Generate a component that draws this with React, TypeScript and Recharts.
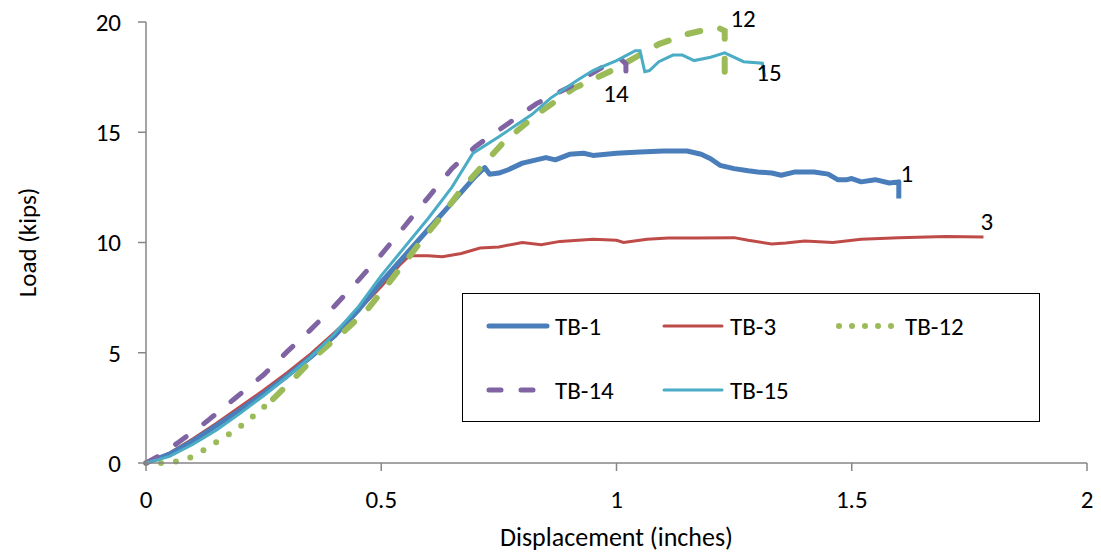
import { LineChart, Line, XAxis, YAxis, ReferenceDot, Label } from 'recharts';

// displacement (in), load (kips) pairs
const tb1: [number, number][] = [
  [0, 0], [0.05, 0.4], [0.1, 1.0], [0.15, 1.7], [0.2, 2.4], [0.25, 3.15], [0.3, 3.95], [0.35, 4.8],
  [0.4, 5.75], [0.45, 6.9], [0.5, 8.2], [0.55, 9.4], [0.6, 10.6], [0.65, 11.8], [0.7, 13.0], [0.72, 13.4],
  [0.73, 13.1], [0.75, 13.15], [0.77, 13.3], [0.8, 13.6], [0.85, 13.85], [0.87, 13.75], [0.9, 14.0],
  [0.93, 14.05], [0.95, 13.95], [1.0, 14.05], [1.05, 14.1], [1.1, 14.15], [1.15, 14.15], [1.18, 14.0],
  [1.2, 13.8], [1.22, 13.5], [1.25, 13.35], [1.28, 13.25], [1.3, 13.2], [1.33, 13.15], [1.35, 13.05],
  [1.38, 13.2], [1.42, 13.2], [1.45, 13.1], [1.47, 12.85], [1.49, 12.85], [1.5, 12.9], [1.52, 12.75],
  [1.55, 12.85], [1.58, 12.7], [1.6, 12.75], [1.6, 12.0],
];

const tb3: [number, number][] = [
  [0, 0], [0.05, 0.45], [0.1, 1.1], [0.15, 1.8], [0.2, 2.55], [0.25, 3.3], [0.3, 4.1], [0.35, 4.95],
  [0.4, 5.9], [0.45, 6.9], [0.5, 8.0], [0.54, 9.0], [0.56, 9.4], [0.6, 9.4], [0.63, 9.35], [0.67, 9.5],
  [0.71, 9.75], [0.75, 9.8], [0.8, 10.0], [0.84, 9.9], [0.88, 10.05], [0.95, 10.15], [1.0, 10.1],
  [1.015, 10.0], [1.065, 10.15], [1.11, 10.2], [1.17, 10.2], [1.25, 10.22], [1.28, 10.1], [1.33, 9.93],
  [1.36, 9.98], [1.4, 10.07], [1.46, 10.0], [1.52, 10.15], [1.6, 10.22], [1.7, 10.27], [1.78, 10.25],
];

// TB-12 lower part (dotted) and upper part (long dashes)
const tb12Low: [number, number][] = [
  [0, 0], [0.03, 0], [0.06, 0.05], [0.09, 0.2], [0.12, 0.55], [0.15, 0.95], [0.18, 1.35], [0.21, 1.8],
  [0.24, 2.35], [0.27, 2.9],
];
const tb12High: [number, number][] = [
  [0.27, 2.9], [0.32, 3.95], [0.36, 4.85], [0.42, 5.95], [0.47, 6.95], [0.51, 8.0], [0.55, 9.1],
  [0.59, 10.2], [0.63, 11.25], [0.67, 12.4], [0.72, 13.6], [0.76, 14.55], [0.83, 15.8], [0.91, 17.0],
  [1.0, 17.9], [1.09, 19.0], [1.15, 19.45], [1.19, 19.65], [1.22, 19.7], [1.23, 19.6], [1.23, 17.7],
];

const tb14: [number, number][] = [
  [0, 0], [0.03, 0.35], [0.07, 0.95], [0.13, 1.9], [0.19, 2.95], [0.25, 4.0], [0.3, 5.05], [0.35, 6.05],
  [0.4, 7.1], [0.45, 8.25], [0.5, 9.45], [0.55, 10.75], [0.6, 12.05], [0.65, 13.35], [0.7, 14.35],
  [0.77, 15.4], [0.83, 16.3], [0.9, 17.05], [0.97, 17.95], [1.01, 18.3], [1.02, 18.1], [1.02, 17.3],
];

const tb15: [number, number][] = [
  [0, 0], [0.05, 0.3], [0.1, 0.85], [0.15, 1.5], [0.2, 2.25], [0.25, 3.05], [0.3, 3.9], [0.35, 4.8],
  [0.4, 5.85], [0.45, 7.05], [0.5, 8.5], [0.55, 9.8], [0.6, 11.1], [0.65, 12.5], [0.695, 14.05],
  [0.75, 14.8], [0.82, 15.8], [0.86, 16.55], [0.92, 17.4], [0.95, 17.8], [1.0, 18.25], [1.04, 18.7],
  [1.05, 18.7], [1.06, 17.75], [1.07, 17.8], [1.09, 18.2], [1.12, 18.5], [1.14, 18.5], [1.165, 18.25],
  [1.2, 18.4], [1.23, 18.6], [1.27, 18.2], [1.31, 18.13], [1.315, 17.5],
];

const xTicks = [0, 0.5, 1, 1.5, 2];
const yTicks = [0, 5, 10, 15, 20];

// end-of-curve specimen numbers
const endLabels: [string, number, number][] = [
  ['1', 1.617, 13.15],
  ['3', 1.787, 10.97],
  ['12', 1.269, 20.18],
  ['14', 0.999, 16.78],
  ['15', 1.324, 17.73],
];

const FONT = "Carlito, Calibri, 'Open Sans', sans-serif";
const FS = 25;
const AXIS = '#868686';

const toPts = (arr: [number, number][]) => arr.map(([x, y]) => ({ x, y }));

const legendItems = [
  { name: 'TB-1', color: '#4a7ebb', width: 5, dash: undefined as string | undefined },
  { name: 'TB-3', color: '#be4b48', width: 3, dash: undefined },
  { name: 'TB-12', color: '#9bbb59', width: 6, dash: '0 13' },
  { name: 'TB-14', color: '#7f63a2', width: 5, dash: '12 20' },
  { name: 'TB-15', color: '#4bacc6', width: 3, dash: undefined },
];

const LegendBox = () => (
  <div
    style={{
      position: 'absolute', left: 462, top: 293, width: 576, height: 127,
      border: '1.5px solid #000', background: '#fff', fontFamily: FONT, fontSize: FS, lineHeight: 1,
    }}
  >
    {legendItems.map((it, i) => {
      const col = i % 3;
      const row = Math.floor(i / 3);
      return (
        <div
          key={it.name}
          style={{ position: 'absolute', left: 22 + col * 175, top: 20 + row * 64, height: 24, display: 'flex', alignItems: 'center' }}
        >
          <svg width={66} height={16}>
            <line x1={4} y1={8} x2={62} y2={8} stroke={it.color} strokeWidth={it.width}
              strokeDasharray={it.dash} strokeLinecap="round" />
          </svg>
          <span style={{ marginLeft: 4 }}>{it.name}</span>
        </div>
      );
    })}
  </div>
);

export default function App() {
  return (
    <div style={{ position: 'absolute', left: 0, top: 0, width: 1101, height: 556, background: '#fff' }}>
      <LineChart width={1101} height={556} margin={{ top: 22, right: 14, left: 0, bottom: 0 }}
        style={{ fontFamily: FONT }}>
        <XAxis type="number" dataKey="x" domain={[0, 2]} ticks={xTicks} height={93}
          stroke={AXIS} strokeWidth={1.5} tickSize={8} tickMargin={19}
          tick={{ fill: '#000', fontSize: FS }} tickFormatter={(v: number) => String(v)}>
          <Label value="Displacement (inches)" position="insideBottom" offset={10} fill="#000" fontSize={26} />
        </XAxis>
        <YAxis type="number" domain={[0, 20]} ticks={yTicks} width={146}
          stroke={AXIS} strokeWidth={1.5} tickSize={8} tickMargin={17}
          tick={{ fill: '#000', fontSize: FS }}>
          <Label value="Load (kips)" angle={-90} position="insideLeft" offset={27} fill="#000" fontSize={FS}
            style={{ textAnchor: 'middle' }} />
        </YAxis>
        <Line data={toPts(tb3)} dataKey="y" type="linear" stroke="#be4b48" strokeWidth={3}
          dot={false} isAnimationActive={false} />
        <Line data={toPts(tb1)} dataKey="y" type="linear" stroke="#4a7ebb" strokeWidth={5}
          dot={false} isAnimationActive={false} strokeLinejoin="round" />
        <Line data={toPts(tb12Low)} dataKey="y" type="linear" stroke="#9bbb59" strokeWidth={6}
          strokeDasharray="0 15" strokeLinecap="round" dot={false} isAnimationActive={false} />
        <Line data={toPts(tb12High)} dataKey="y" type="linear" stroke="#9bbb59" strokeWidth={6}
          strokeDasharray="13 20" strokeLinecap="round" dot={false} isAnimationActive={false} />
        <Line data={toPts(tb14)} dataKey="y" type="linear" stroke="#7f63a2" strokeWidth={5}
          strokeDasharray="13 22" strokeLinecap="round" dot={false} isAnimationActive={false} />
        <Line data={toPts(tb15)} dataKey="y" type="linear" stroke="#4bacc6" strokeWidth={3}
          dot={false} isAnimationActive={false} />
        {endLabels.map(([t, x, y]) => (
          <ReferenceDot key={t} x={x} y={y} r={0} fill="none" stroke="none" ifOverflow="visible">
            <Label value={t} position="center" fill="#000" fontSize={FS} />
          </ReferenceDot>
        ))}
      </LineChart>
      <LegendBox />
    </div>
  );
}
